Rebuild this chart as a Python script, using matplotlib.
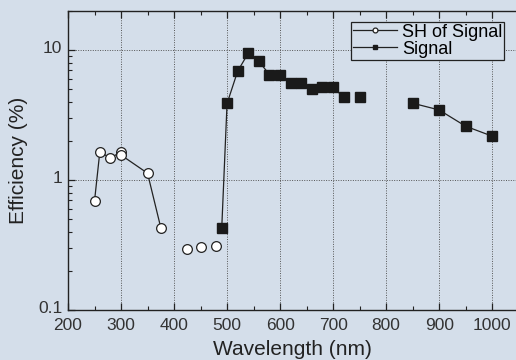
import numpy as np
import matplotlib.pyplot as plt
import matplotlib.transforms as mtransforms
from matplotlib.ticker import FixedLocator, NullFormatter

plt.rcParams['font.family'] = ['Liberation Sans', 'DejaVu Sans']

# SH of signal (open circles); NaN breaks the connecting line
sh_wl = [250, 260, 280, 300, 300, 350, 375, np.nan, 425, np.nan, 450, np.nan, 480]
sh_eff = [0.69, 1.65, 1.48, 1.65, 1.56, 1.13, 0.43, np.nan, 0.294, np.nan, 0.304, np.nan, 0.312]

# Signal (filled squares)
sig_wl = [490, 500, 520, 540, 560, 580, 600, 620, 640, 660, 680, 700, 720,
          np.nan, 750, np.nan, 850, 900, 950, 1000]
sig_eff = [0.43, 3.89, 6.9, 9.5, 8.2, 6.5, 6.5, 5.64, 5.64, 5.0, 5.2, 5.2, 4.33,
           np.nan, 4.33, np.nan, 3.91, 3.47, 2.6, 2.18]

bg = '#d4deea'
fig = plt.figure(figsize=(5.16, 3.6), dpi=100, facecolor=bg)
ax = fig.add_axes([0.1318, 0.139, 0.8682, 0.830])
ax.set_facecolor(bg)

ax.plot(sh_wl, sh_eff, '-', color='#222222', lw=0.9, marker='o', ms=7,
        mfc='white', mec='#222222', mew=0.9, label='SH of Signal')
ax.plot(sig_wl, sig_eff, '-', color='#222222', lw=0.9, marker='s', ms=7,
        mfc='#1a1a1a', mec='#1a1a1a', label='Signal')

ax.set_yscale('log')
ax.set_xlim(200, 1045)
ax.set_ylim(0.1, 20)

ax.xaxis.set_major_locator(FixedLocator([200, 300, 400, 500, 600, 700, 800, 900, 1000]))
ax.xaxis.set_minor_locator(FixedLocator([250, 350, 450, 550, 650, 750, 850, 950]))
ax.yaxis.set_major_locator(FixedLocator([0.1, 1, 10]))
ax.yaxis.set_major_formatter(plt.FuncFormatter(lambda v, p: f'{v:g}'))
ax.yaxis.set_minor_formatter(NullFormatter())

ax.tick_params(which='both', direction='in', top=True, right=False,
               labelsize=12.5, color='#222222', labelcolor='#333333')
ax.tick_params(axis='x', pad=5.5)
ax.tick_params(axis='y', pad=4)
ax.tick_params(which='major', length=5, width=0.9)
ax.tick_params(which='minor', length=3, width=0.8)

# nudge y tick labels up a little so "0.1" clears "200"
lift = mtransforms.ScaledTranslation(0, 2 / 72, fig.dpi_scale_trans)
for lbl in ax.get_yticklabels():
    lbl.set_transform(lbl.get_transform() + lift)

ax.grid(True, which='major', linestyle=(0, (1, 1.5)), color='#555555', lw=0.7)

for side in ['left', 'bottom', 'top']:
    ax.spines[side].set_color('#222222')
    ax.spines[side].set_linewidth(1.0)
ax.spines['right'].set_visible(False)

ax.set_xlabel('Wavelength (nm)', fontsize=15, labelpad=5, color='#222222')
ax.set_ylabel('Efficiency (%)', fontsize=15, labelpad=7, color='#222222')

leg = ax.legend(loc='upper right', bbox_to_anchor=(0.977, 0.939), bbox_transform=fig.transFigure,
                frameon=True, fancybox=False, fontsize=13, handlelength=2.4,
                borderpad=0.1, labelspacing=0.0, handletextpad=0.3, borderaxespad=0.0,
                markerscale=0.5)
leg.get_frame().set_edgecolor('#222222')
leg.get_frame().set_facecolor(bg)
leg.get_frame().set_linewidth(0.9)
leg.get_frame().set_alpha(1)

fig.savefig('out.png', dpi=100, facecolor=bg)
